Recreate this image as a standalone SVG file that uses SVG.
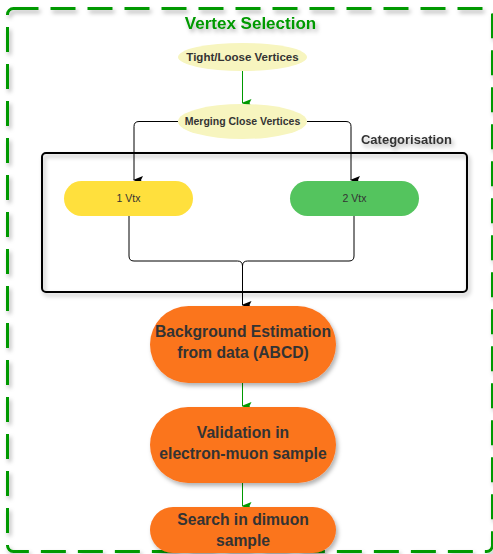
<svg xmlns="http://www.w3.org/2000/svg" width="493" height="554" viewBox="0 0 493 554">
<defs>
<filter id="sh" x="-20%" y="-20%" width="140%" height="150%">
<feDropShadow dx="2" dy="3" stdDeviation="2" flood-color="#000" flood-opacity="0.3"/>
</filter>
<marker id="ab" markerWidth="8" markerHeight="10" refX="4" refY="9" orient="auto-start-reverse" markerUnits="userSpaceOnUse" viewBox="0 0 8 10">
<path d="M0,0 L4,2 L8,0 L4,10 Z" fill="#000"/>
</marker>
<marker id="ag" markerWidth="8" markerHeight="10" refX="4" refY="9" orient="auto-start-reverse" markerUnits="userSpaceOnUse" viewBox="0 0 8 10">
<path d="M0,0 L4,2 L8,0 L4,10 Z" fill="#009900"/>
</marker>
<style>
text{font-family:"Liberation Sans",Arial,sans-serif;fill:#333;text-anchor:middle}
.b{font-weight:bold}
.blk{fill:none;stroke:#000;stroke-width:1}
.grn{fill:none;stroke:#009900;stroke-width:1}
.or{fill:#fb741f}
</style>
</defs>
<rect x="7.5" y="8.5" width="485" height="543" rx="6" fill="none" stroke="#009900" stroke-width="3" stroke-dasharray="25 12" filter="url(#sh)"/>
<text class="b" x="250.5" y="29" font-size="17" style="fill:#009900" filter="url(#sh)">Vertex Selection</text>
<g id="categorisation">
<rect x="42" y="153" width="425" height="139" rx="4" fill="none" stroke="#000" stroke-width="2" filter="url(#sh)"/>
<text class="b" x="406.5" y="144" font-size="13" filter="url(#sh)">Categorisation</text>
</g>
<g id="connectors">
<path class="grn" d="M242.5 71 V103" marker-end="url(#ag)"/>
<path class="blk" d="M178 121.5 H139 Q134 121.5 134 126.5 V180" marker-end="url(#ab)"/>
<path class="blk" d="M307 121.5 H346 Q351 121.5 351 126.5 V180" marker-end="url(#ab)"/>
<path class="blk" d="M129 216 V256 Q129 261 134 261 H237.5 Q242.5 261 242.5 266"/>
<path class="blk" d="M354 216 V256 Q354 261 349 261 H247.5 Q242.5 261 242.5 266 V305" marker-end="url(#ab)"/>
<path class="grn" d="M242.5 383 V406" marker-end="url(#ag)"/>
<path class="grn" d="M242.5 483 V506" marker-end="url(#ag)"/>
</g>
<g id="tight-loose">
<ellipse cx="242.5" cy="57" rx="64.5" ry="14" fill="#f7f5bf"/>
<text class="b" x="242.5" y="60.5" font-size="11.5">Tight/Loose Vertices</text>
</g>
<g id="merging">
<ellipse cx="242.5" cy="121.5" rx="64.5" ry="17.5" fill="#f7f5bf"/>
<text class="b" x="242.5" y="125" font-size="10.5">Merging Close Vertices</text>
</g>
<g id="vtx1">
<rect x="64" y="181" width="129" height="35" rx="17.5" fill="#ffe03d"/>
<text x="128.5" y="202" font-size="10.5">1 Vtx</text>
</g>
<g id="vtx2">
<rect x="290" y="181" width="129" height="35" rx="17.5" fill="#54c45e"/>
<text x="354.5" y="202" font-size="10.5">2 Vtx</text>
</g>
<g id="background">
<rect class="or" x="150" y="306" width="186" height="77" rx="38.5" filter="url(#sh)"/>
<text class="b" x="243" y="337" font-size="15.7">Background Estimation</text>
<text class="b" x="243" y="358" font-size="15.7">from data (ABCD)</text>
</g>
<g id="validation">
<rect class="or" x="150" y="407" width="186" height="76" rx="38" filter="url(#sh)"/>
<text class="b" x="243" y="438" font-size="15.7">Validation in</text>
<text class="b" x="243" y="459" font-size="15.7">electron-muon sample</text>
</g>
<g id="search">
<rect class="or" x="150" y="507" width="186" height="46" rx="23" filter="url(#sh)"/>
<text class="b" x="243" y="525" font-size="15.7">Search in dimuon</text>
<text class="b" x="243" y="546" font-size="15.7">sample</text>
</g>
</svg>
